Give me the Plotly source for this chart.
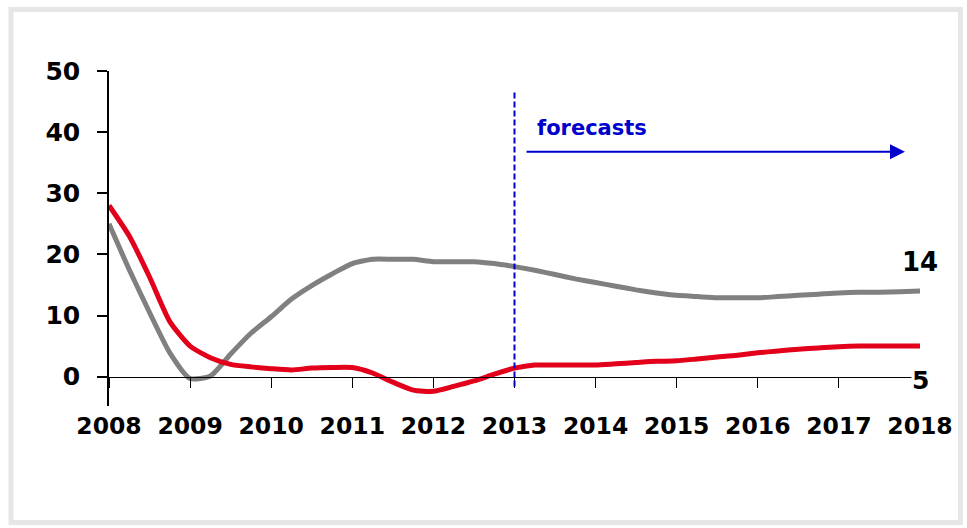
import plotly.graph_objects as go

# Quarterly observations and forecasts, 2008-2018 (% y/y)
quarters = [2008 + 0.25 * i for i in range(41)]

gray_series = [
    25.0, 17.5, 10.5, 3.9,            # 2008
    -0.3, 0.1, 3.7, 7.1,              # 2009
    9.8, 12.7, 14.9, 16.8,            # 2010
    18.5, 19.2, 19.2, 19.2,           # 2011
    18.8, 18.8, 18.8, 18.5,           # 2012
    18.0, 17.4, 16.7, 16.0,           # 2013
    15.4, 14.8, 14.2, 13.7,           # 2014
    13.3, 13.1, 12.9, 12.9,           # 2015
    12.9, 13.1, 13.3, 13.5,           # 2016
    13.7, 13.8, 13.8, 13.9,           # 2017
    14.0,                             # 2018
]

red_series = [
    28.0, 23.0, 16.3, 9.0,            # 2008
    5.0, 3.1, 2.0, 1.6,               # 2009
    1.3, 1.1, 1.4, 1.5,               # 2010
    1.5, 0.6, -0.9, -2.2,             # 2011
    -2.4, -1.6, -0.7, 0.4,            # 2012
    1.4, 1.9, 1.9, 1.9,               # 2013
    1.9, 2.1, 2.3, 2.5,               # 2014
    2.6, 2.9, 3.2, 3.5,               # 2015
    3.9, 4.2, 4.5, 4.7,               # 2016
    4.9, 5.0, 5.0, 5.0,               # 2017
    5.0,                              # 2018
]

year_ticks = list(range(2008, 2019))
year_labels = [str(y) for y in year_ticks]
y_ticks = [0, 10, 20, 30, 40, 50]
forecast_start = 2013
forecast_text = "forecasts"

W, H = 967, 528
M_L, M_R, M_T, M_B = 109, 47, 71, 122
Y_MIN, Y_MAX = -4.8, 50
X_MIN, X_MAX = 2008, 2018

FONT = "DejaVu Sans"
RED = "#e2001a"
GRAY = "#808080"
BLUE = "#0000cc"

plot_w = W - M_L - M_R
plot_h = H - M_T - M_B


def px_to_paper_x(px):
    return (px - M_L) / plot_w


def px_to_paper_y(py):
    return (H - M_B - py) / plot_h


fig = go.Figure()
fig.add_trace(go.Scatter(
    x=quarters, y=gray_series, mode="lines",
    line=dict(color=GRAY, width=5, shape="spline", smoothing=0.6),
    hoverinfo="skip", showlegend=False,
))
fig.add_trace(go.Scatter(
    x=quarters, y=red_series, mode="lines",
    line=dict(color=RED, width=5, shape="spline", smoothing=0.6),
    hoverinfo="skip", showlegend=False,
))

zero_pos = (0 - Y_MIN) / (Y_MAX - Y_MIN)

fig.update_layout(
    width=W, height=H,
    margin=dict(l=M_L, r=M_R, t=M_T, b=M_B),
    paper_bgcolor="white", plot_bgcolor="white",
    showlegend=False,
    xaxis=dict(
        range=[X_MIN, X_MAX],
        anchor="free", position=zero_pos,
        showgrid=False, zeroline=False,
        showline=True, linecolor="black", linewidth=1,
        ticks="outside", ticklen=10, tickwidth=1, tickcolor="black",
        tickmode="array", tickvals=year_ticks, ticktext=year_labels,
        ticklabelstandoff=18,
        tickfont=dict(family=FONT, size=23.5, color="black", weight="bold"),
    ),
    yaxis=dict(
        range=[Y_MIN, Y_MAX],
        showgrid=False, zeroline=False,
        showline=True, linecolor="black", linewidth=1.5,
        ticks="outside", ticklen=10, tickwidth=1.5, tickcolor="black",
        tickmode="array", tickvals=y_ticks,
        ticklabelstandoff=12,
        tickfont=dict(family=FONT, size=25, color="black", weight="bold"),
    ),
)

# Light frame around the chart
fig.add_shape(
    type="rect", xref="paper", yref="paper",
    x0=px_to_paper_x(11), x1=px_to_paper_x(960.5),
    y0=px_to_paper_y(522.5), y1=px_to_paper_y(9.5),
    line=dict(color="#e6e6e6", width=5), fillcolor="rgba(0,0,0,0)",
    layer="below",
)

# Start of the forecast period
fig.add_shape(
    type="line", xref="x", yref="y",
    x0=forecast_start, x1=forecast_start, y0=-1.6, y1=46.9,
    line=dict(color=BLUE, width=2, dash="6px,3px"),
)

# Forecast arrow and label
fig.add_annotation(
    x=2017.815, y=36.8, ax=2013.13, ay=36.8,
    xref="x", yref="y", axref="x", ayref="y",
    text="", showarrow=True,
    arrowhead=2, arrowsize=1.5, arrowwidth=2, arrowcolor=BLUE,
    standoff=0, startstandoff=0,
)
fig.add_annotation(
    x=2013.25, y=40.6, xref="x", yref="y",
    xanchor="left", yanchor="middle",
    text=forecast_text, showarrow=False,
    font=dict(family=FONT, size=21, color=BLUE, weight="bold"),
)

# End-of-period values
fig.add_annotation(
    x=X_MAX, y=gray_series[-1], xref="x", yref="y",
    xanchor="center", yanchor="bottom", yshift=12,
    text=f"{gray_series[-1]:.0f}", showarrow=False,
    font=dict(family=FONT, size=26, color="black", weight="bold"),
)
fig.add_annotation(
    x=X_MAX, y=0, xref="x", yref="y",
    xanchor="center", yanchor="middle", yshift=-4,
    text=f"{red_series[-1]:.0f}", showarrow=False, bgcolor="white", borderpad=0,
    font=dict(family=FONT, size=25, color="black", weight="bold"),
)

fig.write_html("out.html")
